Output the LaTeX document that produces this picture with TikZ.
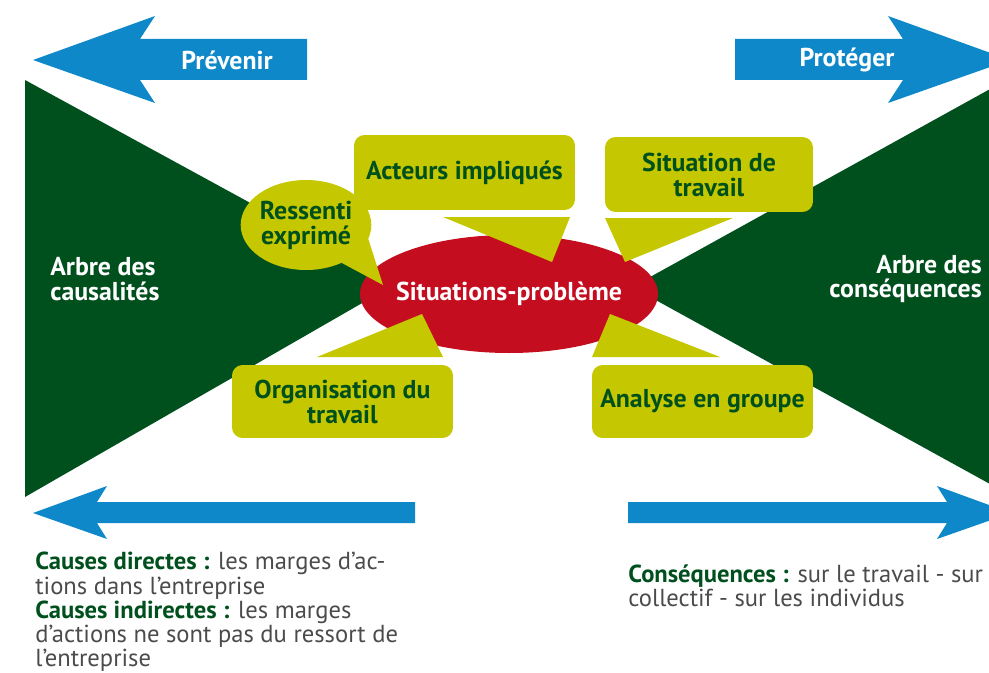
\documentclass[tikz,border=0pt]{standalone}
\usepackage{fontspec}
\setmainfont{PT Sans}
\usetikzlibrary{shapes.geometric}

\definecolor{foret}{RGB}{0,80,30}
\definecolor{anis}{RGB}{197,200,0}
\definecolor{carmin}{RGB}{196,14,32}
\definecolor{azur}{RGB}{14,136,200}
\definecolor{ardoise}{RGB}{75,75,75}

\tikzset{bulle/.style = {shape = rectangle,
                         fill = anis,
                         rounded corners = 6pt,
                         text = foret,
                         align = center,
                         inner sep = 0pt,
                         font = \bfseries\fontsize{14.7}{14.2}\selectfont},
         pointe/.style = {fill = anis},
         fleche/.style = {fill = azur},
         titre/.style = {text = white,
                         inner sep = 0pt,
                         font = \bfseries\fontsize{14.7}{14.2}\selectfont},
         legende/.style = {text = ardoise,
                           align = left,
                           inner sep = 0pt,
                           anchor = north west,
                           font = \fontsize{14}{13.75}\selectfont}}

\begin{document}
\begin{tikzpicture}[x=0.02cm, y=-0.02cm]
		\useasboundingbox (0,0) rectangle (989,672);
		\clip (0,0) rectangle (989,672);

		% les deux arbres
		\fill[foret] (25,80) -- (25,497) -- (397,283) -- cycle;
		\fill[foret] (1010,78) -- (1010,495) -- (632,287) -- cycle;

		% fleches bleues
		\fill[fleche] (33,60) -- (155,16) -- (140,39) -- (307,39) -- (307,80) -- (140,80) -- (155,103) -- cycle;
		\fill[fleche] (1010,60) -- (888,16) -- (903,39) -- (735,39) -- (735,80) -- (903,80) -- (888,103) -- cycle;
		\fill[fleche] (33,513) -- (107,486) -- (97,502) -- (415,502) -- (415,523) -- (97,523) -- (107,539) -- cycle;
		\fill[fleche] (1011,513) -- (937,486) -- (947,502) -- (628,502) -- (628,523) -- (947,523) -- (937,539) -- cycle;
		\node[titre] (prevenir) at (227,60) {Prévenir};
		\node[titre] (proteger) at (847,60) {Protéger};

		% centre
		\fill[carmin] (509,294) ellipse [x radius = 149, y radius = 59];
		\node[titre] (probleme) at (509,294) {Situations-problème};

		% pointes vers le centre
		\fill[pointe] (443,217) -- (570,217) -- (552,262) -- cycle;
		\fill[pointe] (605,218) -- (733,218) -- (625,262) -- cycle;
		\fill[pointe] (317,357) -- (443,357) -- (422,314) -- cycle;
		\fill[pointe] (592,357) -- (720,357) -- (610,314) -- cycle;
		\fill[pointe] (340,262) -- (368,238) -- (383,285) -- cycle;

		\node[bulle, minimum width = 4.42cm, minimum height = 1.5cm] (acteurs) at (464.5,172.5) {Acteurs impliqués};
		\node[bulle, minimum width = 4.16cm, minimum height = 1.5cm] (situation) at (709,174.5) {Situation de\\travail};
		\node[bulle, minimum width = 4.42cm, minimum height = 1.46cm] (organisation) at (342.5,401.5) {Organisation du\\travail};
		\node[bulle, minimum width = 4.42cm, minimum height = 1.46cm] (analyse) at (702.5,401.5) {Analyse en groupe};
		\node[bulle, ellipse, minimum width = 2.56cm, minimum height = 1.8cm] (ressenti) at (306,225) {Ressenti\\exprimé};

		% arbres
		\node[titre, anchor = west, align = left] (causalites) at (50,279) {Arbre des\\causalités};
		\node[titre, anchor = east, align = right] (consequences) at (982,279) {Arbre des\\conséquences};

		% legendes
		\node[legende] (causes) at (35,552) {\textcolor{foret}{\bfseries Causes directes :} les marges d'ac-\\tions dans l'entreprise\\\textcolor{foret}{\bfseries Causes indirectes :} les marges\\d'actions ne sont pas du ressort de\\l'entreprise};
		\node[legende] (effets) at (628,564) {\textcolor{foret}{\bfseries Conséquences :} sur le travail - sur le\\collectif - sur les individus};
	\end{tikzpicture}
\end{document}
